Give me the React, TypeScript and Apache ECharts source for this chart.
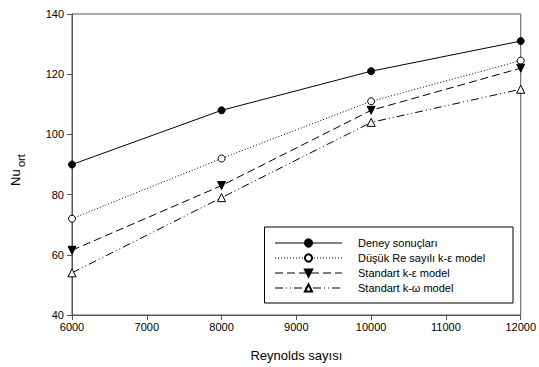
import React, { useEffect, useRef } from "react";
import * as echarts from "echarts";

const reynolds = [6000, 8000, 10000, 12000];
const deney = [90, 108, 121, 131];
const dusukRe = [72, 92, 111, 124.5];
const standartKe = [61.5, 83, 108, 122];
const standartKw = [54, 79, 104, 115];
const seriesNames = [
  "Deney sonuçları",
  "Düşük Re sayılı k-ε model",
  "Standart k-ε model",
  "Standart k-ω model",
];

const FONT = "'Liberation Sans', Arial, sans-serif";
const AXIS_COLOR = "#555";

export default function App() {
  const ref = useRef<HTMLDivElement>(null);
  useEffect(() => {
    if (!ref.current) return;
    const chart = echarts.init(ref.current, undefined, { renderer: "svg" });
    const mk = (vals: number[]) => reynolds.map((x, i) => [x, vals[i]]);
    chart.setOption({
      animation: false,
      backgroundColor: "#fff",
      textStyle: { fontFamily: FONT },
      grid: {
        left: 72,
        right: 18,
        top: 14,
        bottom: 52,
        show: true,
        borderColor: AXIS_COLOR,
        borderWidth: 1,
        backgroundColor: "transparent",
      },
      legend: {
        orient: "vertical",
        right: 26,
        top: 227,
        padding: [10, 9, 9, 10],
        itemWidth: 67,
        itemHeight: 9,
        itemGap: 3,
        borderColor: "#000",
        borderWidth: 1,
        backgroundColor: "#fff",
        lineStyle: { width: 1 },
        textStyle: {
          fontFamily: FONT,
          fontSize: 11,
          color: "#000",
          lineHeight: 12,
          width: 146,
          padding: [0, 0, 0, 11],
        },
        data: seriesNames,
      },
      xAxis: {
        type: "value",
        min: 6000,
        max: 12000,
        interval: 1000,
        name: "Reynolds sayısı",
        nameLocation: "middle",
        nameGap: 34,
        nameTextStyle: { fontFamily: FONT, fontSize: 13, color: "#000" },
        axisLine: { lineStyle: { color: AXIS_COLOR, width: 1 } },
        axisTick: { length: 5, lineStyle: { color: AXIS_COLOR } },
        axisLabel: {
          fontFamily: FONT,
          fontSize: 11,
          color: "#000",
          margin: 6,
          formatter: (v: number) => String(v),
        },
        splitLine: { show: false },
      },
      yAxis: {
        type: "value",
        min: 40,
        max: 140,
        interval: 20,
        axisLine: { show: true, lineStyle: { color: AXIS_COLOR, width: 1 } },
        axisTick: { show: true, length: 5, lineStyle: { color: AXIS_COLOR } },
        axisLabel: {
          fontFamily: FONT,
          fontSize: 11,
          color: "#000",
          margin: 8,
          formatter: (v: number) => String(v),
        },
        splitLine: { show: false },
      },
      graphic: [
        {
          type: "group",
          x: 22,
          y: 186,
          rotation: Math.PI / 2,
          children: [
            {
              type: "text",
              x: 0,
              y: 0,
              style: {
                text: "Nu",
                fontFamily: FONT,
                fontSize: 13,
                fill: "#000",
                textVerticalAlign: "bottom",
              },
            },
            {
              type: "text",
              x: 19,
              y: 4,
              style: {
                text: "ort",
                fontFamily: FONT,
                fontSize: 11,
                fill: "#000",
                textVerticalAlign: "bottom",
              },
            },
          ],
        },
      ],
      series: [
        {
          name: seriesNames[0],
          type: "line",
          data: mk(deney),
          symbol: "circle",
          symbolSize: 7,
          lineStyle: { color: "#000", width: 1, type: "solid" },
          itemStyle: { color: "#000", borderColor: "#000", borderWidth: 1 },
        },
        {
          name: seriesNames[1],
          type: "line",
          data: mk(dusukRe),
          symbol: "circle",
          symbolSize: 7,
          lineStyle: { color: "#000", width: 1, type: [1, 2] },
          itemStyle: { color: "#fff", borderColor: "#000", borderWidth: 1 },
        },
        {
          name: seriesNames[2],
          type: "line",
          data: mk(standartKe),
          symbol: "triangle",
          symbolRotate: 180,
          symbolSize: 8,
          lineStyle: { color: "#000", width: 1, type: [8, 4] },
          itemStyle: { color: "#000", borderColor: "#000", borderWidth: 1 },
        },
        {
          name: seriesNames[3],
          type: "line",
          data: mk(standartKw),
          symbol: "triangle",
          symbolSize: 8,
          lineStyle: { color: "#000", width: 1, type: [8, 3, 1, 3, 1, 3] },
          itemStyle: { color: "#fff", borderColor: "#000", borderWidth: 1 },
        },
      ],
    });
    return () => chart.dispose();
  }, []);
  return <div ref={ref} style={{ width: 539, height: 367, position: "absolute", left: 0, top: 0 }} />;
}
